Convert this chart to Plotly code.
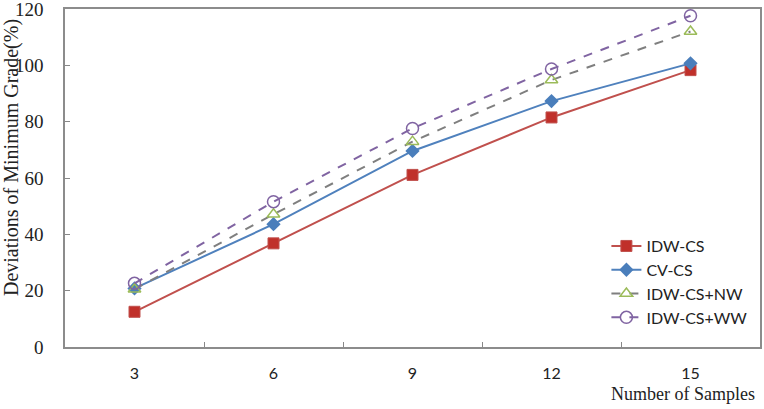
import plotly.graph_objects as go

categories = ["3", "6", "9", "12", "15"]
idw_cs = [12.5, 36.8, 61.1, 81.5, 98.3]
cv_cs = [20.8, 43.6, 69.6, 87.3, 100.7]
idw_cs_nw = [20.5, 47.1, 72.9, 94.8, 112.0]
idw_cs_ww = [22.6, 51.6, 77.6, 98.7, 117.6]
y_ticks = [0, 20, 40, 60, 80, 100, 120]

fig = go.Figure()
fig.add_trace(go.Scatter(x=categories, y=idw_cs, name="IDW-CS", mode="lines+markers",
                         line=dict(color="#c0504d", width=2),
                         marker=dict(symbol="square", size=11, color="#c0302a",
                                     line=dict(color="#c0504d", width=1))))
fig.add_trace(go.Scatter(x=categories, y=cv_cs, name="CV-CS", mode="lines+markers",
                         line=dict(color="#4f81bd", width=2),
                         marker=dict(symbol="diamond", size=11, color="#4a7ebb")))
fig.add_trace(go.Scatter(x=categories, y=idw_cs_nw, name="IDW-CS+NW", mode="lines+markers",
                         line=dict(color="#7f7f7f", width=2, dash="dash"),
                         marker=dict(symbol="triangle-up-open", size=11, color="#9bbb59",
                                     line=dict(width=1.5))))
fig.add_trace(go.Scatter(x=categories, y=idw_cs_ww, name="IDW-CS+WW", mode="lines+markers",
                         line=dict(color="#8064a2", width=2, dash="dash"),
                         marker=dict(symbol="circle-open", size=12, color="#8064a2",
                                     line=dict(width=1.5))))

fig.update_layout(
    width=764, height=409,
    margin=dict(l=65, r=4, t=9, b=62),
    paper_bgcolor="white", plot_bgcolor="white",
    showlegend=True,
    legend=dict(x=0.779, y=0.349, xanchor="left", yanchor="top",
                font=dict(family="Lato, Open Sans, sans-serif", size=16, color="#222"),
                bgcolor="rgba(0,0,0,0)", tracegroupgap=0),
    xaxis=dict(type="category", range=[-0.5, 4.5], tickson="boundaries", automargin=False,
               ticks="inside", ticklen=5, tickcolor="#888",
               showline=True, linecolor="#8c8c8c", linewidth=1.5, mirror=True,
               showgrid=False, zeroline=False, ticklabelstandoff=11,
               tickfont=dict(family="Lato, sans-serif", size=16, color="#222")),
    yaxis=dict(range=[0, 120], tickvals=y_ticks, ticklabeloverflow="allow", automargin=False,
               ticks="inside", ticklen=5, tickcolor="#888",
               showline=True, linecolor="#8c8c8c", linewidth=1.5, mirror=True,
               showgrid=False, zeroline=False, ticklabelstandoff=16,
               tickfont=dict(family="Liberation Serif, Times New Roman, serif", size=19, color="#222")),
    annotations=[
        dict(text="Number of Samples", xref="paper", yref="paper", x=1.0, y=0,
             xanchor="right", yanchor="top", yshift=-35, xshift=-3, showarrow=False,
             font=dict(family="Liberation Serif, Times New Roman, serif", size=18, color="#222")),
        dict(text="Deviations of Minimum Grade(%)", xref="paper", yref="paper",
             x=0, xshift=-54, y=0.559, xanchor="center", yanchor="middle", textangle=-90,
             showarrow=False,
             font=dict(family="Liberation Serif, Times New Roman, serif", size=20, color="#222")),
    ],
)

fig.write_html("out.html")
